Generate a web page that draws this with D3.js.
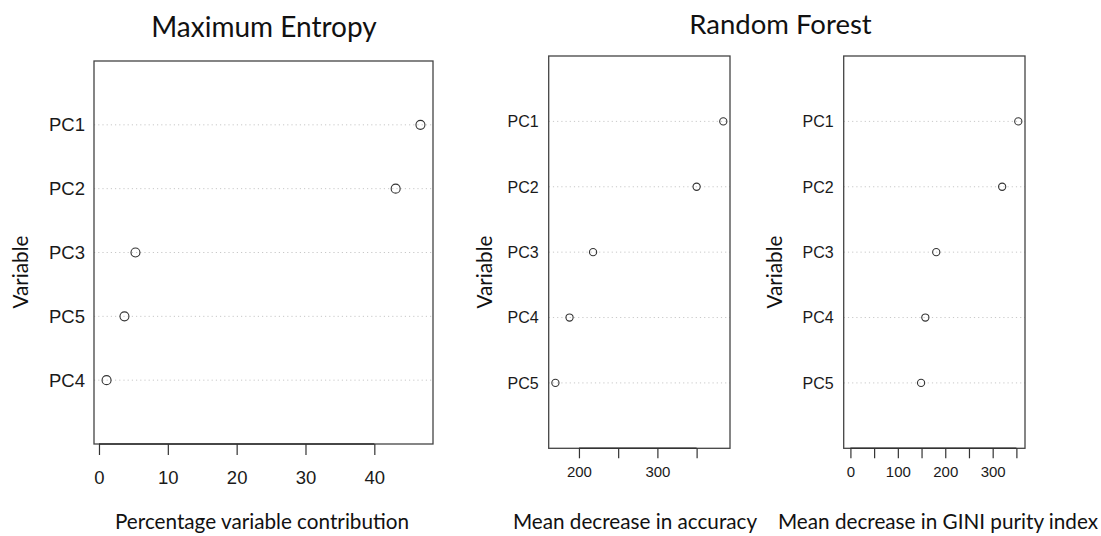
<!DOCTYPE html>
<html>
<head>
<meta charset="utf-8">
<script src="https://cdn.jsdelivr.net/npm/d3@7"></script>
<style>
  html, body { margin: 0; padding: 0; background: #fff; }
  svg { display: block; }
  .cat, .tick text { font-family: "Liberation Sans", Arial, sans-serif; fill: #1a1a1a; }
  .ttl, .axttl { font-family: Lato, "Open Sans", sans-serif; fill: #111; }
</style>
</head>
<body>
<svg id="chart" width="1101" height="536"></svg>
<script>
// Maximum Entropy: percentage contribution per principal component
const maxentVars = ["PC1", "PC2", "PC3", "PC5", "PC4"];
const maxentContribution = [46.7, 43.1, 5.3, 3.7, 1.1];
const maxentTicks = [0, 10, 20, 30, 40];
const maxentTickLabels = ["0", "10", "20", "30", "40"];

// Random Forest importance measures
const rfVars = ["PC1", "PC2", "PC3", "PC4", "PC5"];
const rfAccuracy = [384, 350, 218, 188, 170];
const rfAccuracyTicks = [200, 250, 300, 350];
const rfAccuracyTickLabels = ["200", "", "300", ""];
const rfGini = [354, 320, 181, 158, 149];
const rfGiniTicks = [0, 50, 100, 150, 200, 250, 300, 350];
const rfGiniTickLabels = ["0", "", "100", "", "200", "", "300", ""];

const svg = d3.select("#chart");

// dotchart-style panel: rows 1..n from bottom, padded x range
function dotPanel(opt) {
  const g = svg.append("g");
  const n = opt.vars.length;
  const lo = opt.includeZero ? Math.min(0, d3.min(opt.values)) : d3.min(opt.values);
  const hi = d3.max(opt.values);
  const pad = (hi - lo) * 0.04;
  const x = d3.scaleLinear().domain([lo - pad, hi + pad]).range([opt.left, opt.right]);
  const y = d3.scaleLinear().domain([0, n + 1]).range([opt.bottom, opt.top]);
  const rowY = (i) => y(n - i);

  // dotted guide lines
  g.selectAll("line.guide").data(opt.vars).join("line")
    .attr("class", "guide")
    .attr("x1", opt.left).attr("x2", opt.right)
    .attr("y1", (d, i) => rowY(i)).attr("y2", (d, i) => rowY(i))
    .attr("stroke", "#c8c8c8").attr("stroke-width", 1)
    .attr("stroke-dasharray", "1.2,3");

  // points
  g.selectAll("circle").data(opt.values).join("circle")
    .attr("cx", d => x(d)).attr("cy", (d, i) => rowY(i))
    .attr("r", opt.r).attr("fill", "none")
    .attr("stroke", "#333").attr("stroke-width", 1.1);

  // category labels
  g.selectAll("text.cat").data(opt.vars).join("text")
    .attr("class", "cat")
    .attr("x", opt.left - opt.labelGap).attr("y", (d, i) => rowY(i))
    .attr("dy", "0.36em").attr("text-anchor", "end")
    .style("font-size", opt.catSize + "px")
    .text(d => d);

  // frame
  g.append("rect")
    .attr("x", opt.left).attr("y", opt.top)
    .attr("width", opt.right - opt.left).attr("height", opt.bottom - opt.top)
    .attr("fill", "none").attr("stroke", "#444").attr("stroke-width", 1.3);

  // bottom axis
  const axis = d3.axisBottom(x)
    .tickValues(opt.ticks)
    .tickSize(opt.tickLen)
    .tickPadding(opt.tickPad)
    .tickFormat((d, i) => opt.tickLabels[i]);
  const ag = g.append("g").attr("transform", `translate(0,${opt.bottom})`).call(axis);
  ag.select(".domain").remove();
  ag.selectAll(".tick line").attr("stroke", "#333").attr("stroke-width", 1.2);
  ag.selectAll(".tick text").style("font-size", opt.tickSize + "px").attr("fill", "#1a1a1a");
  ag.append("line")
    .attr("x1", x(opt.ticks[0])).attr("x2", x(opt.ticks[opt.ticks.length - 1]))
    .attr("y1", 0).attr("y2", 0)
    .attr("stroke", "#333").attr("stroke-width", 1.4);

  // axis titles
  g.append("text").attr("class", "axttl")
    .attr("x", opt.xTitleX).attr("y", opt.xTitleY)
    .attr("text-anchor", "middle").style("font-size", opt.axSize + "px")
    .text(opt.xTitle);
  g.append("text").attr("class", "axttl")
    .attr("transform", `translate(${opt.yTitleX},272) rotate(-90)`)
    .attr("text-anchor", "middle").style("font-size", opt.axSize + "px")
    .text("Variable");
}

dotPanel({
  vars: maxentVars, values: maxentContribution, includeZero: false,
  left: 94, right: 433, top: 61, bottom: 444,
  ticks: maxentTicks, tickLabels: maxentTickLabels,
  tickLen: 11, tickPad: 16, tickSize: 18.5, catSize: 18.5, labelGap: 9, r: 4.5,
  xTitle: "Percentage variable contribution", xTitleX: 262, xTitleY: 529,
  yTitleX: 28, axSize: 20.7
});

dotPanel({
  vars: rfVars, values: rfAccuracy, includeZero: false,
  left: 548.7, right: 730, top: 56, bottom: 448.3,
  ticks: rfAccuracyTicks, tickLabels: rfAccuracyTickLabels,
  tickLen: 10, tickPad: 8, tickSize: 15, catSize: 16, labelGap: 10, r: 3.6,
  xTitle: "Mean decrease in accuracy", xTitleX: 635, xTitleY: 529,
  yTitleX: 492, axSize: 20.7
});

dotPanel({
  vars: rfVars, values: rfGini, includeZero: true,
  left: 843.7, right: 1025, top: 56, bottom: 448.3,
  ticks: rfGiniTicks, tickLabels: rfGiniTickLabels,
  tickLen: 10, tickPad: 8, tickSize: 15, catSize: 16, labelGap: 10, r: 3.6,
  xTitle: "Mean decrease in GINI purity index", xTitleX: 938, xTitleY: 529,
  yTitleX: 782, axSize: 20.7
});

// panel group titles
svg.append("text").attr("class", "ttl")
  .attr("x", 264).attr("y", 36.5).attr("text-anchor", "middle")
  .style("font-size", "28px").text("Maximum Entropy");
svg.append("text").attr("class", "ttl")
  .attr("x", 780.5).attr("y", 33.5).attr("text-anchor", "middle")
  .style("font-size", "27.5px").text("Random Forest");
</script>
</body>
</html>
